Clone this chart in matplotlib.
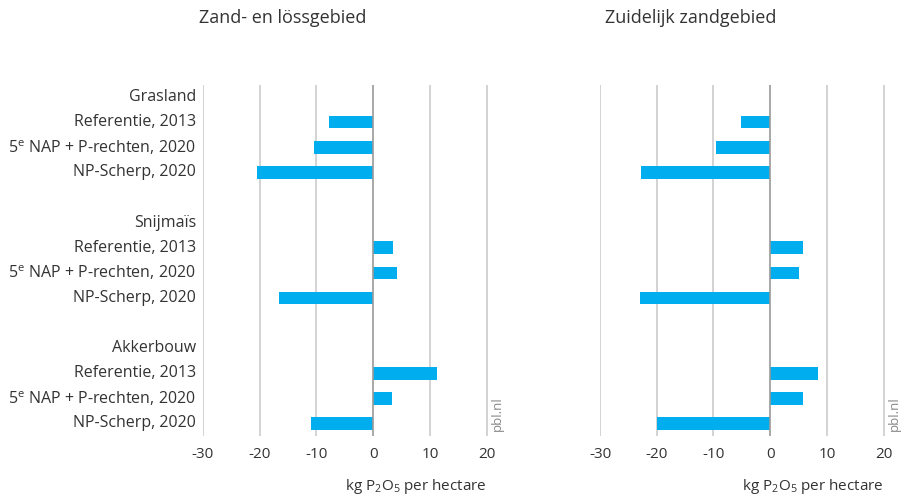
import matplotlib
matplotlib.use("Agg")
import matplotlib.pyplot as plt
import numpy as np

plt.rcParams['font.family'] = ['Open Sans', 'DejaVu Sans']
plt.rcParams['axes.unicode_minus'] = False
plt.rcParams['mathtext.fontset'] = 'custom'
plt.rcParams['mathtext.rm'] = 'Open Sans'
plt.rcParams['mathtext.it'] = 'Open Sans'

panels = ["Zand- en lössgebied", "Zuidelijk zandgebied"]
groups = ["Grasland", "Snijmaïs", "Akkerbouw"]
scenarios = ["Referentie, 2013", "5$^{\\mathrm{e}}$ NAP + P-rechten, 2020", "NP-Scherp, 2020"]

# kg P2O5 per hectare, per group: [Referentie, 5e NAP, NP-Scherp]
zand_loss = {
    "Grasland": [-7.8, -10.5, -20.4],
    "Snijmaïs": [3.5, 4.2, -16.6],
    "Akkerbouw": [11.2, 3.3, -11.0],
}
zuid_zand = {
    "Grasland": [-5.1, -9.6, -22.7],
    "Snijmaïs": [5.7, 5.0, -22.9],
    "Akkerbouw": [8.4, 5.7, -20.0],
}
xticks = [-30, -20, -10, 0, 10, 20]

bar_color = "#00AEEF"
text_color = "#333333"
grid_color = "#d0d0d0"

W, H = 912, 497
fig = plt.figure(figsize=(W / 100, H / 100), dpi=100)

# row layout: heading row followed by three scenario rows, blank row between groups
rows = []
r = 0
for gi, g in enumerate(groups):
    rows.append(("head", g, r))
    r += 1
    for si, s in enumerate(scenarios):
        rows.append(("bar", (g, si, s), r))
        r += 1
    r += 1
n_rows = r - 1

ax_bottom = 1 - 436 / H
ax_top = 1 - 84.5 / H
ax_w = 295 / W
lefts = [203 / W, 600 / W]

for pi, (data, left) in enumerate(zip([zand_loss, zuid_zand], lefts)):
    ax = fig.add_axes([left, ax_bottom, ax_w, ax_top - ax_bottom])
    ax.set_xlim(-30, 22)
    ax.set_ylim(n_rows - 0.5, -0.5)
    for x in xticks:
        if x == 0:
            continue
        ax.axvline(x, color=grid_color, lw=1.3, zorder=0)
    for kind, item, y in rows:
        if kind == "bar":
            g, si, s = item
            ax.barh(y, data[g][si], height=0.5, color=bar_color, zorder=2)
    ax.axvline(0, color="#999999", lw=1.2, zorder=3)
    for sp in ax.spines.values():
        sp.set_visible(False)
    ax.set_yticks([])
    ax.set_xticks(xticks)
    ax.set_xticklabels([str(x) for x in xticks], color=text_color, fontsize=11)
    ax.tick_params(axis='x', length=0, pad=8)
    ax.text(21.9, n_rows - 0.7, "pbl.nl", rotation=90, ha="center", va="bottom",
            color="#888888", fontsize=9.5)
    # axis label, right-aligned to the last gridline, below the tick labels
    ax.text(20, n_rows - 0.5 + 2.0, "kg P$_2$O$_5$ per hectare", ha="right",
            va="center", color=text_color, fontsize=11, clip_on=False)
    if pi == 0:
        for kind, item, y in rows:
            label = item if kind == "head" else item[2]
            ax.text(-31.2, y, label, ha="right", va="center", color=text_color,
                    fontsize=11.5)

fig.text(283 / W, 1 - 18 / H, panels[0], ha="center", va="center",
         color=text_color, fontsize=13)
fig.text(691 / W, 1 - 18 / H, panels[1], ha="center", va="center",
         color=text_color, fontsize=13)

fig.savefig("out.png", dpi=100, facecolor="white")
